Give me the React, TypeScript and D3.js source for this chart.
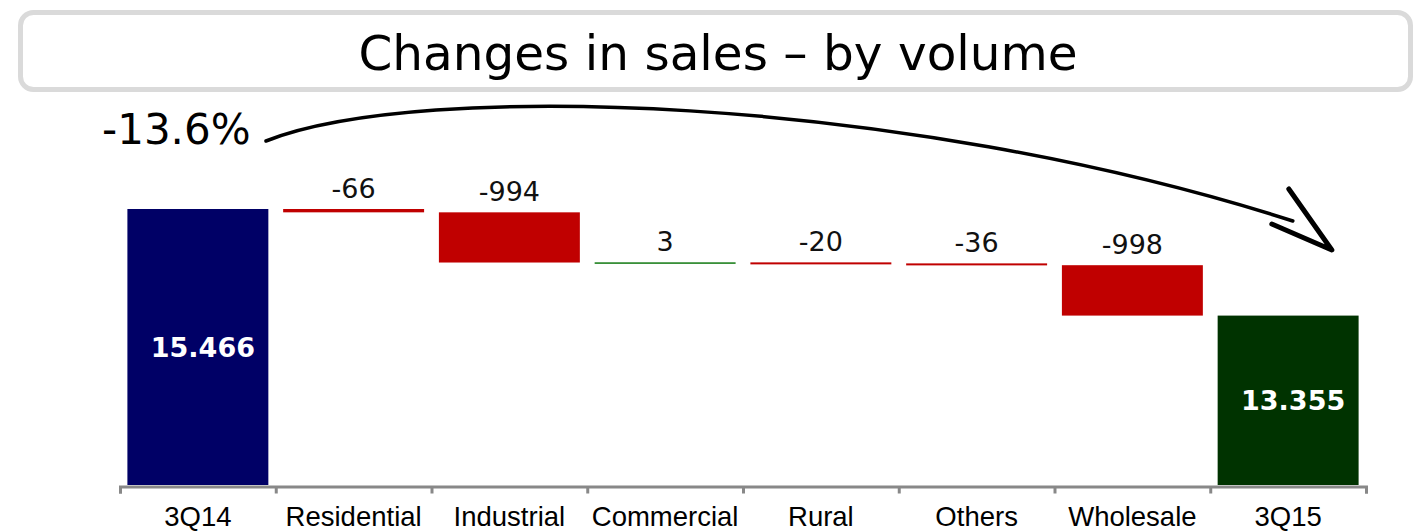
import * as d3 from "d3";
import React, { useRef, useEffect } from "react";

// waterfall data (volume, thousands)
const categories = ["3Q14", "Residential", "Industrial", "Commercial", "Rural", "Others", "Wholesale", "3Q15"];
const startTotal = 15466;
const endTotal = 13355;
const changes = [-66, -994, 3, -20, -36, -998];
const totalLabels = ["15.466", "13.355"];
const overallChange = "-13.6%";
const title = "Changes in sales \u2013 by volume";

const width = 1423;
const height = 532;
const plot = { left: 120, right: 1366, top: 209, bottom: 485 };
const yFloor = 10000;

const colors = {
	start: "#000066",
	end: "#003300",
	down: "#c00000",
	up: "#007000",
	axis: "#888888",
	box: "#dadada",
};

const App = () => {
	const axisRef = useRef(null);

	const xBand = d3
		.scaleBand()
		.domain(categories)
		.range([plot.left, plot.right])
		.paddingInner(0.095)
		.paddingOuter(0.0475);
	const yScale = d3.scaleLinear().domain([yFloor, startTotal]).range([plot.bottom, plot.top]);
	const xIndex = d3.scaleLinear().domain([0, categories.length]).range([plot.left, plot.right]);

	// running totals for the floating bars
	let running = startTotal;
	const steps = changes.map((v, i) => {
		const from = running;
		running += v;
		return { cat: categories[i + 1], from, to: running, value: v };
	});

	useEffect(() => {
		if (!axisRef.current) return;
		const g = d3.select(axisRef.current);
		g.selectAll("*").remove();
		g.call(
			d3
				.axisBottom(xIndex)
				.tickValues(d3.range(categories.length + 1))
				.tickSize(7)
				.tickSizeOuter(7)
				.tickFormat(() => "")
		);
		g.selectAll("path, line").attr("stroke", colors.axis).attr("stroke-width", 3);
	}, []);

	const bw = xBand.bandwidth();
	const tipX = (xBand("3Q15") as number) + bw * 0.81;

	return (
		<svg
			width={width}
			height={height}
			style={{ position: "absolute", left: 0, top: 0, background: "white" }}>
			{/* title box */}
			<rect x={20.5} y={12.5} width={1390} height={77} rx={13} fill="white" stroke={colors.box} strokeWidth={5} />
			<text x={718} y={70} textAnchor="middle" fontFamily="DejaVu Sans" fontSize={48.5} fill="#000">
				{title}
			</text>

			{/* total bars */}
			<rect
				x={xBand("3Q14")}
				y={yScale(startTotal)}
				width={bw}
				height={plot.bottom - yScale(startTotal)}
				fill={colors.start}
			/>
			<rect
				x={xBand("3Q15")}
				y={yScale(endTotal)}
				width={bw}
				height={plot.bottom - yScale(endTotal)}
				fill={colors.end}
			/>
			<text
				x={(xBand("3Q14") as number) + bw / 2 + 5}
				y={(yScale(startTotal) + plot.bottom) / 2 + 10}
				textAnchor="middle"
				fontFamily="DejaVu Sans"
				fontWeight="bold"
				fontSize={27}
				fill="white">
				{totalLabels[0]}
			</text>
			<text
				x={(xBand("3Q15") as number) + bw / 2 + 5}
				y={(yScale(endTotal) + plot.bottom) / 2 + 10}
				textAnchor="middle"
				fontFamily="DejaVu Sans"
				fontWeight="bold"
				fontSize={27}
				fill="white">
				{totalLabels[1]}
			</text>

			{/* floating change bars */}
			{steps.map((s) => {
				const top = yScale(Math.max(s.from, s.to));
				const h = Math.max(Math.abs(yScale(s.from) - yScale(s.to)), s.value > 0 ? 1.4 : 2);
				return (
					<g key={s.cat}>
						<rect
							x={xBand(s.cat)}
							y={top}
							width={bw}
							height={h}
							fill={s.value < 0 ? colors.down : colors.up}
						/>
						<text
							x={(xBand(s.cat) as number) + bw / 2}
							y={top - 11}
							textAnchor="middle"
							fontFamily="DejaVu Sans"
							fontSize={27}
							fill="#111">
							{s.value}
						</text>
					</g>
				);
			})}

			{/* axis */}
			<g ref={axisRef} transform={`translate(0,${plot.bottom + 1.5})`} />
			{categories.map((c) => (
				<text
					key={c}
					x={(xBand(c) as number) + bw / 2}
					y={526}
					textAnchor="middle"
					fontFamily="Liberation Sans"
					fontSize={27.5}
					fill="#000">
					{c}
				</text>
			))}

			{/* overall change annotation */}
			<text x={102} y={144} fontFamily="DejaVu Sans" fontSize={42} fill="#000">
				{overallChange}
			</text>
			<path
				d={`M266,141 C420,80 900,95 ${tipX - 39},221`}
				fill="none"
				stroke="#000"
				strokeWidth={3.5}
				strokeLinecap="round"
			/>
			<path
				d={`M${tipX - 43},189 L${tipX},250 L${tipX - 60},224`}
				fill="none"
				stroke="#000"
				strokeWidth={5}
				strokeLinecap="round"
				strokeLinejoin="round"
			/>
		</svg>
	);
};

export default App;
